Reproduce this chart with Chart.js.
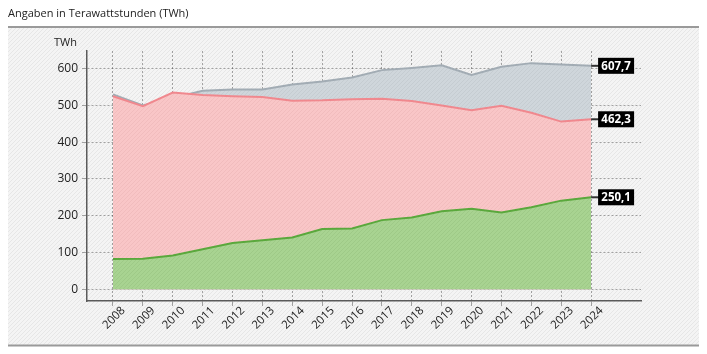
<!DOCTYPE html>
<html><head><meta charset="utf-8">
<script src="https://cdn.jsdelivr.net/npm/chart.js@4/dist/chart.umd.min.js"></script>
<style>html,body{margin:0;padding:0;background:#fff;}#wrap{position:absolute;left:0;top:0;width:707px;height:354px;}</style>
</head><body><div id="wrap"><canvas id="c" width="707" height="354"></canvas></div>
<script>
const years = [2008,2009,2010,2011,2012,2013,2014,2015,2016,2017,2018,2019,2020,2021,2022,2023,2024];
const totalValues = [530,500,520,540,543,543,557,565,576,596,602,609,583,605,615,611,607.7];
const redValues = [525,498,535,528,525,523,513,514,517,518,512,500,487,499,480,456,462.3];
const greenValues = [82,83,92,109,126,133,141,164,165,188,195,212,219,209,223,241,250.1];
const yTicks = [0,100,200,300,400,500,600];
const endLabels = ['607,7','462,3','250,1'];
const titleText = 'Angaben in Terawattstunden (TWh)';
const unitText = 'TWh';

function hatch(bg, line){
  const p = document.createElement('canvas'); p.width = 4; p.height = 4;
  const g = p.getContext('2d');
  g.fillStyle = bg; g.fillRect(0,0,4,4);
  g.strokeStyle = line; g.lineWidth = 1;
  g.beginPath(); g.moveTo(0,4); g.lineTo(4,0); g.stroke();
  return g.createPattern(p,'repeat');
}
const ctx0 = document.getElementById('c').getContext('2d');
const bgPat = hatch('#f4f4f4','#e6e6e6');
const greyPat = hatch('#cfd6db','#c5ccd1');
const redPat = hatch('#f9c6c7','#f1bcbd');
const greenPat = hatch('#a8d391','#9ec987');

const toXY = vals => years.map((y,i)=>({x:y,y:vals[i]}));

const decor = {
  id:'decor',
  beforeDraw(chart){
    const c = chart.ctx;
    c.save();
    c.fillStyle = bgPat; c.fillRect(8,27,691,318);
    c.strokeStyle = '#9a9a9a'; c.lineWidth = 2;
    c.beginPath(); c.moveTo(8,27); c.lineTo(699,27); c.stroke();
    c.beginPath(); c.moveTo(8,345.5); c.lineTo(699,345.5); c.stroke();
    c.fillStyle = '#222'; c.font = '11px "Open Sans"'; c.textBaseline = 'middle';
    c.fillText(titleText, 8, 14);
    c.fillText(unitText, 54, 43);
    c.restore();
  },
  afterDraw(chart){
    const c = chart.ctx, xs = chart.scales.x, ys = chart.scales.y;
    c.save();
    c.fillStyle = '#222'; c.font = '11.5px "Open Sans"';
    c.textAlign = 'center'; c.textBaseline = 'middle';
    years.forEach(y=>{
      const px = xs.getPixelForValue(y);
      c.save(); c.translate(px+1, 318); c.rotate(-Math.PI/4);
      c.fillText(String(y), 0, 0); c.restore();
    });
    const last = [totalValues, redValues, greenValues].map(a=>a[a.length-1]);
    last.forEach((v,i)=>{
      const px = xs.getPixelForValue(years[years.length-1]);
      const py = ys.getPixelForValue(v);
      c.strokeStyle = '#333'; c.lineWidth = 2;
      c.beginPath(); c.moveTo(px,py); c.lineTo(px+8,py); c.stroke();
      c.fillStyle = '#000'; c.fillRect(px+7, py-8, 36, 16);
      c.fillStyle = '#fff'; c.font = 'bold 11.5px "Open Sans"';
      c.textAlign = 'center'; c.textBaseline = 'middle';
      c.fillText(endLabels[i], px+25, py+0.5);
    });
    c.restore();
  }
};

new Chart(ctx0, {
  type:'line',
  data:{datasets:[
    {data:toXY(greenValues), borderColor:'#5aa83c', backgroundColor:greenPat, fill:'origin', borderWidth:2, pointRadius:0, tension:0},
    {data:toXY(redValues), borderColor:'#f0888e', backgroundColor:redPat, fill:'origin', borderWidth:2, pointRadius:0, tension:0},
    {data:toXY(totalValues), borderColor:'#a2acb4', backgroundColor:greyPat, fill:'origin', borderWidth:2, pointRadius:0, tension:0}
  ]},
  options:{
    responsive:false, animation:false, devicePixelRatio:1,
    layout:{padding:{left:0,top:51,right:66,bottom:0}},
    plugins:{legend:{display:false}, tooltip:{enabled:false}, title:{display:false}},
    scales:{
      x:{type:'linear', min:2007.13, max:2025.67, z:1,
        afterBuildTicks(s){ s.ticks = years.map(v=>({value:v})); },
        afterFit(s){ s.height = 53; },
        ticks:{display:false, autoSkip:false},
        grid:{color:'rgba(80,80,80,0.5)', lineWidth:1, tickLength:5, drawOnChartArea:true},
        border:{display:true, color:'#5a5a5a', width:1.5, dash:[2,2]}
      },
      y:{min:-32, max:648, z:1,
        afterBuildTicks(s){ s.ticks = yTicks.map(v=>({value:v})); },
        afterFit(s){ s.width = 87; },
        ticks:{color:'#222', font:{family:'"Open Sans"', size:12}, padding:4},
        grid:{color:'rgba(80,80,80,0.5)', lineWidth:1, tickLength:5},
        border:{display:true, color:'#5a5a5a', width:1.5, dash:[2,2]}
      }
    }
  },
  plugins:[decor]
});
</script></body></html>
